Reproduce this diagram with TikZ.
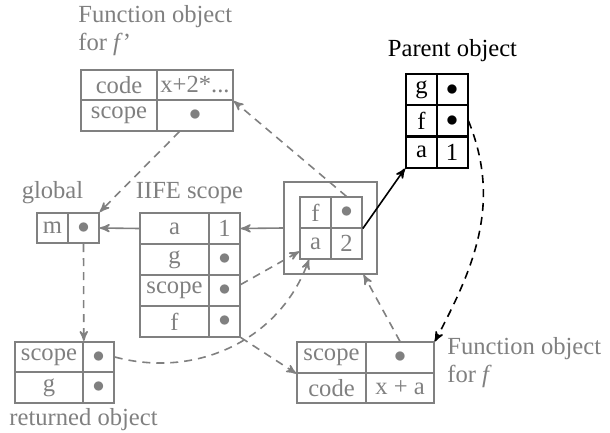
\documentclass[tikz,border=0pt]{standalone}
\usepackage{fontspec}
\setmainfont{Liberation Serif}
\usepackage{tikz}
\usetikzlibrary{arrows,calc}

\newcommand{\pdot}{$\bullet$}

\begin{document}
\fontsize{12.3}{14}\selectfont
\begin{tikzpicture}[x=0.5pt, y=-0.5pt, >=stealth',
  cell/.style={draw=gray, line width=0.8pt, text=gray, inner sep=0pt, minimum height=15.25pt},
  pcell/.style={draw=black, line width=1pt, text=black, inner sep=0pt, minimum height=15.5pt, minimum width=15.5pt},
  lbl/.style={text=gray, inner sep=0pt},
  gline/.style={draw=gray, line width=0.8pt},
  gdash/.style={draw=gray, line width=0.8pt, dash pattern=on 4pt off 3pt}]
\useasboundingbox (0,0) rectangle (610,433);

% function object for f'
\node[lbl, anchor=west, align=left] (fplbl) at (78,31) {Function object\\for \textit{f}’};
\node[cell, minimum width=38pt] (fpc) at (119,85) {code};
\node[cell, minimum width=38pt] (fpcv) at (195,85) {x+2*...};
\node[cell, minimum width=38pt] (fps) at (119,115.5) {scope};
\node[cell, minimum width=38pt] (fpsv) at (195,115.5) {\pdot};

% global
\node[lbl] (glbl) at (52.5,193) {global};
\node[cell, minimum width=15.5pt] (gm) at (52.5,228) {m};
\node[cell, minimum width=15.5pt] (gv) at (83.5,228) {\pdot};

% IIFE scope
\node[lbl] (ilbl) at (189.5,193) {IIFE scope};
\node[cell, minimum width=34.5pt] (ia) at (174.5,228.5) {a};
\node[cell, minimum width=15.5pt] (iav) at (224.5,228.5) {1};
\node[cell, minimum width=34.5pt] (ig) at (174.5,259.5) {g};
\node[cell, minimum width=15.5pt] (igv) at (224.5,259.5) {\pdot};
\node[cell, minimum width=34.5pt] (is) at (174.5,290.5) {scope};
\node[cell, minimum width=15.5pt] (isv) at (224.5,290.5) {\pdot};
\node[cell, minimum width=34.5pt] (if) at (174.5,321.5) {f};
\node[cell, minimum width=15.5pt] (ifv) at (224.5,321.5) {\pdot};

% closure scope
\node[cell, minimum width=46.5pt, minimum height=46pt] (clo) at (330.5,228) {};
\node[cell, minimum width=15.5pt] (cf) at (315.5,212.5) {f};
\node[cell, minimum width=15.5pt] (cfv) at (346.5,212.5) {\pdot};
\node[cell, minimum width=15.5pt] (ca) at (315.5,243.5) {a};
\node[cell, minimum width=15.5pt] (cav) at (346.5,243.5) {2};

% parent object
\node[inner sep=0pt] (plbl) at (452.5,51) {Parent object};
\node[pcell] (pg) at (421.5,90) {g};
\node[pcell] (pgv) at (452,90) {\pdot};
\node[pcell] (pf) at (421.5,121) {f};
\node[pcell] (pfv) at (452,121) {\pdot};
\node[pcell] (pa) at (421.5,152) {a};
\node[pcell] (pav) at (452,152) {1};

% returned object
\node[cell, minimum width=34pt] (rs) at (49,357) {scope};
\node[cell, minimum width=15.5pt] (rsv) at (98.5,357) {\pdot};
\node[cell, minimum width=34pt] (rg) at (49,387.5) {g};
\node[cell, minimum width=15.5pt] (rgv) at (98.5,387.5) {\pdot};
\node[lbl] (rlbl) at (83.5,420) {returned object};

% function object for f
\node[cell, minimum width=34.5pt] (ffs) at (331.5,357.5) {scope};
\node[cell, minimum width=34pt] (ffsv) at (400,357.5) {\pdot};
\node[cell, minimum width=34.5pt] (ffc) at (331.5,388) {code};
\node[cell, minimum width=34pt] (ffcv) at (400,388) {x + a};
\node[lbl, anchor=west, align=left] (fflbl) at (447,363) {Function object\\for \textit{f}};

% links
\draw[gline,->] (clo.west) -- (iav.east);
\draw[gline,->] (ia.west) -- (gv.east);
\draw[gdash,->] ($(fpsv.south west)!.3!(fpsv.south east)$) -- (gv.north east);
\draw[gdash,->] (cfv.north) -- (fpcv.south east);
\draw[black, line width=0.8pt, ->] (cfv.south east) -- (pa.south west);
\draw[black, line width=0.8pt, dash pattern=on 4pt off 3pt, ->] (pfv.east) to[out=-68, in=62] (ffsv.north east);
\draw[gdash,->] (gv.south) -- (rs.north east);
\draw[gdash,->] ([yshift=3pt]isv.east) -- ($(ca.west)!.5!(ca.south west)$);
\draw[gdash,->] (rsv.east) to[out=-15, in=-110] ($(ca.south west)!.3!(ca.south east)$);
\draw[gdash,->] (ifv.south east) -- (ffs.south west);
\draw[gdash,->] (ffsv.north) -- ($(clo.south)!.7!(clo.south east)$);
\end{tikzpicture}
\end{document}
